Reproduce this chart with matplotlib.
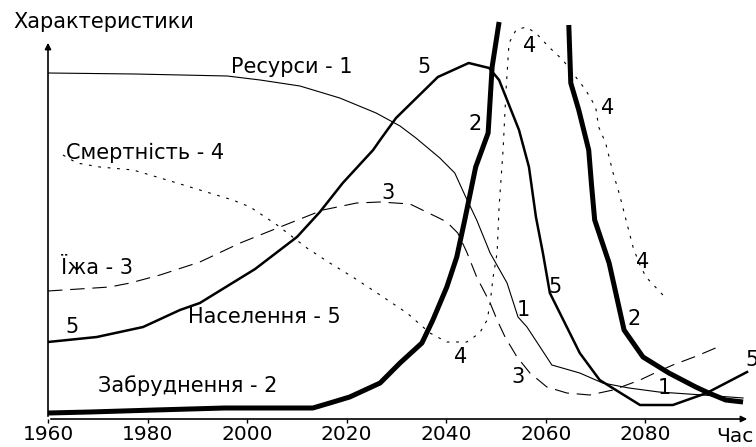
import numpy as np
import matplotlib
matplotlib.use("Agg")
import matplotlib.pyplot as plt

plt.rcParams['font.family'] = ['DejaVu Sans']

# 1 - ресурси
res_x = [1960, 1977.5, 1996, 2002.6, 2010.6, 2018.6, 2025.9, 2030.7, 2033.9, 2038.7, 2041.7,
         2043.9, 2046.1, 2048.8, 2052.2, 2054.4, 2056.2, 2061.2, 2066.8, 2071.4, 2076.7,
         2082.7, 2091.5, 2099.6]
res_y = [346, 345, 343, 339, 333, 321, 306, 293, 281, 261, 246, 222, 199, 166, 136, 102, 92,
         54, 46, 36, 31, 27, 24, 21]

# 2 - забруднення (виходить за межі графіка між 2050 і 2064)
pol_x = [1960, 1968.4, 1981.5, 1995.5, 2013.2, 2016.6, 2020.6, 2026.7, 2030.7, 2035.1, 2037.3,
         2040.1, 2042.1, 2043.7, 2045.9, 2048.4, 2049.2, 2050.6, np.nan,
         2064.6, 2065.0, 2066.6, 2068.6, 2069.2, 2069.8, 2072.7, 2075.7, 2079.5, 2084.7,
         2090.1, 2092.7, 2096.1, 2099.6]
pol_y = [6, 7, 9, 11, 11, 16, 22, 36, 56, 76, 99, 132, 162, 199, 252, 286, 352, 397, np.nan,
         394, 336, 309, 269, 232, 199, 156, 89, 62, 46, 32, 26, 19, 17]

# 3 - їжа
food_x = [1960, 1972.4, 1976.5, 1982.5, 1990.5, 1998.6, 2006.6, 2015.2, 2022, 2026.7, 2032.7,
          2038.1, 2040.1, 2042.3, 2044.1, 2046.1, 2048.8, 2050.2, 2051.8, 2054.2, 2056.8,
          2060.2, 2064.2, 2068.8, 2073.5, 2078.9, 2082.3, 2085.5, 2090.3, 2095.5]
food_y = [128, 132, 136, 144, 157, 176, 192, 209, 216, 217, 215, 202, 197, 186, 167, 142, 116,
          99, 82, 62, 46, 32, 26, 24, 29, 39, 47, 54, 63, 74]

# 4 - смертність
mort_x = [1963, 1965.8, 1970.4, 1977.1, 1983.9, 1990.5, 1997.1, 2000.6, 2006, 2012, 2016.6,
          2021.2, 2026.7, 2032.1, 2036.7, 2040.1, 2044.1, 2046.7, 2048.2, 2048.8, 2049.4,
          2050.2, 2050.6, 2051.4, 2052, 2052.6, 2054, 2056, 2058, 2060.6, 2063.4, 2065.4,
          2068, 2070, 2070.6, 2072, 2073.5, 2074.7, 2076.1, 2077.5, 2078.7, 2080.1, 2083.5]
mort_y = [264, 256, 252, 249, 239, 229, 219, 212, 194, 171, 156, 142, 124, 106, 86, 77, 77, 86,
          99, 116, 142, 166, 212, 269, 329, 376, 389, 392, 386, 372, 359, 346, 329, 312, 292,
          276, 246, 226, 199, 172, 156, 142, 124]

# 5 - населення
pop_x = [1960, 1969.8, 1979.1, 1986.5, 1990.5, 2001.6, 2010, 2014.6, 2019.2, 2025.3, 2026.7,
         2029.9, 2038.3, 2044.5, 2048.6, 2050.6, 2054.6, 2056.6, 2058, 2059.4, 2060.8, 2064.2,
         2066.8, 2070.8, 2078.9, 2085.5, 2092.3, 2100.4]
pop_y = [77, 82, 92, 109, 116, 150, 182, 207, 236, 269, 279, 301, 342, 356, 351, 339, 289, 252,
         202, 166, 126, 92, 66, 39, 14, 14, 26, 47]

ticks = [1960, 1980, 2000, 2020, 2040, 2060, 2080]

names = [("Ресурси - 1", 2009, 352), ("Смертність - 4", 1979.5, 266), ("Їжа - 3", 1969.8, 151),
         ("Населення - 5", 2003.4, 102), ("Забруднення - 2", 1988.1, 33)]
marks = [("5", 1964.8, 92), ("5", 2035.5, 352), ("2", 2045.7, 295), ("3", 2028.3, 226),
         ("4", 2056.8, 373), ("4", 2072.4, 311), ("4", 2079.5, 157), ("1", 2055.4, 109),
         ("5", 2061.8, 132), ("4", 2042.9, 62), ("3", 2054.4, 42), ("2", 2077.7, 100),
         ("1", 2083.7, 31)]

fig = plt.figure(figsize=(7.56, 4.47), dpi=100)
ax = fig.add_axes([48 / 756, 28 / 447, 708 / 756, 419 / 447])
ax.set_xlim(1960, 2102.2)
ax.set_ylim(0, 419)

ax.plot(res_x, res_y, color='black', lw=0.8)
ax.plot(pol_x, pol_y, color='black', lw=3.6, solid_capstyle='butt')
ax.plot(food_x, food_y, color='black', lw=0.8, dashes=(13, 7))
ax.plot(mort_x, mort_y, color='black', lw=0.8, dashes=(2.5, 6))
ax.plot(pop_x, pop_y, color='black', lw=1.8)

for s, x, y in names + marks:
    ax.text(x, y, s, fontsize=15, ha='center', va='center')
ax.text(2100.0, 59, "5", fontsize=15, ha='left', va='center')

# осі зі стрілками
ax.annotate('', xy=(1960, 379), xytext=(1960, 0),
            arrowprops=dict(arrowstyle='-|>', color='black', lw=1.2, mutation_scale=9))
ax.annotate('', xy=(2101, 0), xytext=(1960, 0),
            arrowprops=dict(arrowstyle='-|>', color='black', lw=1.2, mutation_scale=9))

for sp in ax.spines.values():
    sp.set_visible(False)
ax.set_yticks([])
ax.set_xticks(ticks)
ax.set_xticklabels([str(t) for t in ticks], fontsize=14.5)
ax.tick_params(axis='x', direction='out', length=3, width=1, pad=1.5)

fig.text(13 / 756, 1 - 22 / 447, "Характеристики", fontsize=15, ha='left', va='center')
fig.text(716 / 756, 1 - 436 / 447, "Час", fontsize=14.5, ha='left', va='center')

fig.savefig("out.png", dpi=100)
